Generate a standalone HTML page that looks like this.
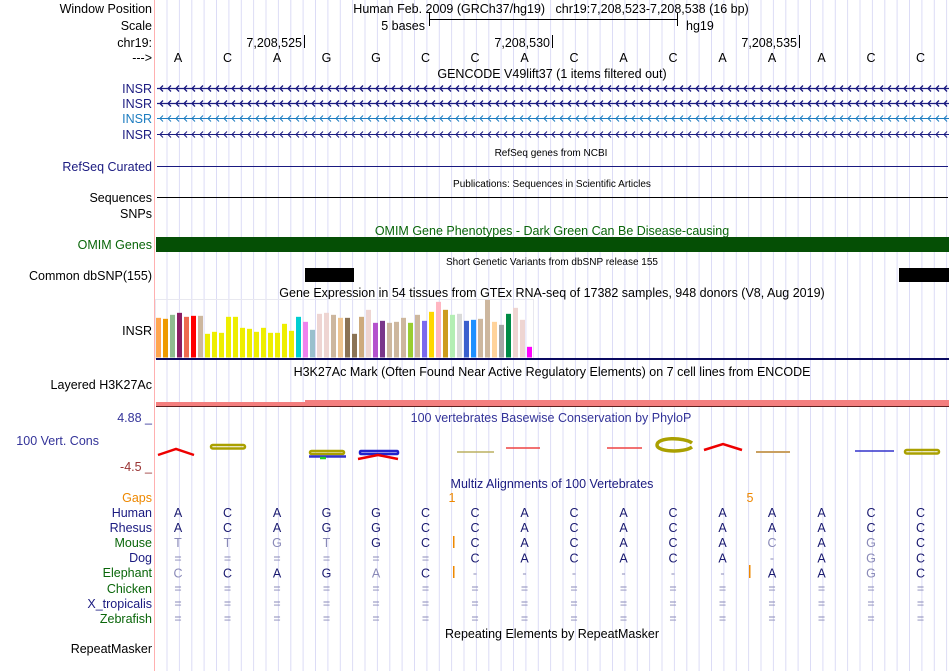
<!DOCTYPE html>
<html><head><meta charset="utf-8"><style>
html,body{margin:0;padding:0;background:#fff}
svg{display:block;font-family:"Liberation Sans",sans-serif}
</style></head><body>
<svg id="c" width="950" height="671" viewBox="0 0 950 671">
<g id="grid"></g>
<line x1="154.5" y1="0" x2="154.5" y2="671" stroke="#ffb0b0"/>
<g font-size="12.5" text-anchor="end" fill="#000">
<text x="152" y="13">Window Position</text>
<text x="152" y="30">Scale</text>
<text x="152" y="47">chr19:</text>
<text x="152" y="62">---&gt;</text>
<text x="152" y="93" fill="#1a1a80">INSR</text>
<text x="152" y="108" fill="#1a1a80">INSR</text>
<text x="152" y="123" fill="#1c7cc0">INSR</text>
<text x="152" y="139" fill="#1a1a80">INSR</text>
<text x="152" y="171" fill="#1a1a80">RefSeq Curated</text>
<text x="152" y="202">Sequences</text>
<text x="152" y="218">SNPs</text>
<text x="152" y="249" fill="#0a660a">OMIM Genes</text>
<text x="152" y="280">Common dbSNP(155)</text>
<text x="152" y="335">INSR</text>
<text x="152" y="389">Layered H3K27Ac</text>
<text x="152" y="422" fill="#333399">4.88 _</text>
<text x="99" y="445" fill="#333399">100 Vert. Cons</text>
<text x="152" y="471" fill="#993333">-4.5 _</text>
<text x="152" y="502" fill="#ee8800">Gaps</text>
<text x="152" y="517" fill="#1a1a80">Human</text>
<text x="152" y="532" fill="#1a1a80">Rhesus</text>
<text x="152" y="547" fill="#0a660a">Mouse</text>
<text x="152" y="562" fill="#1a1a80">Dog</text>
<text x="152" y="577" fill="#0a660a">Elephant</text>
<text x="152" y="593" fill="#0a660a">Chicken</text>
<text x="152" y="608" fill="#1a1a80">X_tropicalis</text>
<text x="152" y="623" fill="#0a660a">Zebrafish</text>
<text x="152" y="653">RepeatMasker</text>
</g>
<g font-size="12.5" fill="#000">
<text x="551" y="13" text-anchor="middle">Human Feb. 2009 (GRCh37/hg19) &#160; chr19:7,208,523-7,208,538 (16 bp)</text>
<text x="425" y="30" text-anchor="end">5 bases</text>
<path d="M429.5 13V26M429.5 19.5H677.5M677.5 13V26" stroke="#000" fill="none"/>
<text x="686" y="30">hg19</text>
<text x="302" y="47" text-anchor="end">7,208,525</text>
<line x1="304.5" y1="35" x2="304.5" y2="48" stroke="#000"/>
<text x="550" y="47" text-anchor="end">7,208,530</text>
<line x1="552.5" y1="35" x2="552.5" y2="48" stroke="#000"/>
<text x="797" y="47" text-anchor="end">7,208,535</text>
<line x1="799.5" y1="35" x2="799.5" y2="48" stroke="#000"/>
<g id="bases"></g>
<text x="552" y="78" text-anchor="middle">GENCODE V49lift37 (1 items filtered out)</text>
</g>
<g id="genes"></g>
<g font-size="10" text-anchor="middle" fill="#000">
<text x="551" y="156">RefSeq genes from NCBI</text>
<text x="552" y="187">Publications: Sequences in Scientific Articles</text>
<text x="552" y="265">Short Genetic Variants from dbSNP release 155</text>
</g>
<line x1="157" y1="166.5" x2="948" y2="166.5" stroke="#1a1a80"/>
<line x1="157" y1="197.5" x2="948" y2="197.5" stroke="#000"/>
<text x="552" y="235" font-size="12.5" text-anchor="middle" fill="#0a660a">OMIM Gene Phenotypes - Dark Green Can Be Disease-causing</text>
<rect x="156" y="237" width="793" height="15" fill="#054f05"/>
<rect x="305" y="268" width="49" height="14" fill="#000"/>
<rect x="899" y="268" width="50" height="14" fill="#000"/>
<text x="552" y="297" font-size="12.5" text-anchor="middle" fill="#000">Gene Expression in 54 tissues from GTEx RNA-seq of 17382 samples, 948 donors (V8, Aug 2019)</text>
<rect x="155.5" y="299.5" width="378" height="59" fill="none" stroke="#e8e8f0"/>
<g id="gtex"></g>
<rect x="156" y="358" width="793" height="2" fill="#0a0a60"/>
<text x="552" y="376" font-size="12.5" text-anchor="middle" fill="#000">H3K27Ac Mark (Often Found Near Active Regulatory Elements) on 7 cell lines from ENCODE</text>
<rect x="156" y="402" width="149" height="4" fill="#f47f7f"/>
<rect x="305" y="400" width="644" height="6" fill="#f47f7f"/>
<line x1="156" y1="406.5" x2="949" y2="406.5" stroke="#602020"/>
<text x="551" y="422" font-size="12.5" text-anchor="middle" fill="#333399">100 vertebrates Basewise Conservation by PhyloP</text>
<g fill="none" stroke-width="2.5">
<path d="M158 455L176 449L194 455" stroke="#e00"/>
<rect x="211" y="445" width="34" height="3.5" rx="1.7" stroke="#aaa000"/>
<rect x="310" y="451" width="34" height="3" rx="1.5" stroke="#aaa000"/>
<path d="M309 456.5H346" stroke="#33c"/><path d="M320 458H326" stroke="#2c2"/>
<rect x="360" y="451" width="38" height="3" rx="1" stroke="#22c"/>
<path d="M358 459L378 455L398 459" stroke="#e00"/>
<path d="M457 452H494" stroke="#bbb060" stroke-width="1.5"/>
<path d="M506 448H540" stroke="#e44" stroke-width="1.5"/>
<path d="M607 448H642" stroke="#e44" stroke-width="1.5"/>
<path d="M692 443C684 437 657 437 657 445C657 452 684 453 692 447" stroke="#aaa000" stroke-width="3.5"/>
<path d="M704 450L723 444L742 450" stroke="#e00"/>
<path d="M756 452H790" stroke="#c9a060" stroke-width="2"/>
<path d="M855 451H894" stroke="#33c" stroke-width="1.5"/>
<rect x="905" y="450" width="34" height="3.5" rx="1.7" stroke="#aaa000"/>
</g>
<text x="552" y="488" font-size="12.5" text-anchor="middle" fill="#1a1a80">Multiz Alignments of 100 Vertebrates</text>
<g font-size="12.5" fill="#ee8800" text-anchor="middle">
<text x="452" y="502">1</text><text x="750" y="502">5</text>
<rect x="453" y="536" width="1.5" height="12" fill="#ee8800" stroke="none"/>
<rect x="453" y="566" width="1.5" height="12" fill="#ee8800" stroke="none"/>
<rect x="749" y="565" width="1.5" height="13" fill="#ee8800" stroke="none"/>
</g>
<g id="aln" font-size="12.5" text-anchor="middle"></g>
<text x="552" y="638" font-size="12.5" text-anchor="middle" fill="#000">Repeating Elements by RepeatMasker</text>
</svg>
<script>
const NS = 'http://www.w3.org/2000/svg';
const refBases = ['A','C','A','G','G','C','C','A','C','A','C','A','A','A','C','C'];
const gtexValues = [119,116,128,134,122,125,125,71,77,74,122,122,89,86,77,89,74,74,101,80,122,107,83,131,134,128,119,119,71,122,143,104,110,104,107,119,104,128,110,137,167,143,128,131,110,113,116,173,107,98,131,149,113,32];
const gtexColors = ['#FFA54F','#EE9A00','#8FBC8F','#8B1C62','#EE6A50','#FF0000','#CDB79E','#EEEE00','#EEEE00','#EEEE00','#EEEE00','#EEEE00','#EEEE00','#EEEE00','#EEEE00','#EEEE00','#EEEE00','#EEEE00','#EEEE00','#EEEE00','#00CED1','#EE82EE','#9AC0CD','#EED5D2','#EED5D2','#CDB79E','#EEC591','#8B7355','#8B7355','#CDAA7D','#EED5D2','#B452CD','#7A378B','#CDB79E','#CDB79E','#CDB79E','#9ACD32','#CDB79E','#7B68EE','#FFD700','#FFB6C1','#CD9B1D','#B4EEB4','#D9D9D9','#3A5FCD','#1E90FF','#CDB79E','#CDB79E','#FFD39B','#A6A6A6','#008B45','#EED5D2','#EED5D2','#FF00FF'];
const alnRows = ['ACAGGCCACACAAACC','ACAGGCCACACAAACC','TTGTGCCACACACAGC','======CACACA-AGC','CCAGAC------AAGC','================','================','================'];
const alnDim = [[],[],[0,1,2,3,12,14],[12,14],[0,4,6,7,8,9,10,11,14],[],[],[]];
const xBase = i => 178 + 49.5 * i;
const gtexX = i => 156 + 7 * i;
const gtexY = v => 357.5 - v / 3;
const rowY = r => 517 + r * 15.1;

const grid = document.getElementById('grid');
for (let x = 167; x < 950; x += 12.375) {
  const l = document.createElementNS(NS, 'line');
  
  
  l.setAttribute('x1', x.toFixed(1)); l.setAttribute('x2', x.toFixed(1));
  l.setAttribute('y1', 0); l.setAttribute('y2', 671);
  l.setAttribute('stroke', '#dcdcf6');
  grid.appendChild(l);
}
const bg = document.getElementById('bases');
refBases.forEach((b, i) => {
  const t = document.createElementNS(NS, 'text');
  
  
  t.setAttribute('x', xBase(i)); t.setAttribute('y', 62);
  t.setAttribute('text-anchor', 'middle');
  t.textContent = b; bg.appendChild(t);
});
const gg = document.getElementById('genes');
[[88,'#1a1a80'],[103,'#1a1a80'],[118,'#1c7cc0'],[134,'#1a1a80']].forEach(([y,c]) => {
  const p = document.createElementNS(NS, 'path');
  
  
  let d = `M157 ${y+0.5}H949`;
  for (let x = 160; x < 948; x += 8) d += `M${x+3} ${y-2.5}L${x} ${y+0.5}L${x+3} ${y+3.5}`;
  p.setAttribute('d', d); p.setAttribute('stroke', c); p.setAttribute('fill', 'none');
  p.setAttribute('stroke-width', y===88||y===103?1.3:1);
  gg.appendChild(p);
});
const gx = document.getElementById('gtex');
gtexValues.forEach((v, i) => {
  const r = document.createElementNS(NS, 'rect');
  
  
  r.setAttribute('x', gtexX(i)); r.setAttribute('width', 5);
  r.setAttribute('y', gtexY(v)); r.setAttribute('height', 357.5 - gtexY(v));
  r.setAttribute('fill', gtexColors[i]);
  gx.appendChild(r);
});
const ag = document.getElementById('aln');
alnRows.forEach((row, r) => {
  const dim = alnDim[r];
  [...row].forEach((ch, i) => {
    const t = document.createElementNS(NS, 'text');
    
    
    t.setAttribute('x', xBase(i)); t.setAttribute('y', rowY(r));
    const faint = ch === '=' || ch === '-' || dim.includes(i);
    t.setAttribute('fill', faint ? '#8a8ab8' : '#1a1a70');
    t.textContent = ch; ag.appendChild(t);
  });
});
</script>
</body></html>
